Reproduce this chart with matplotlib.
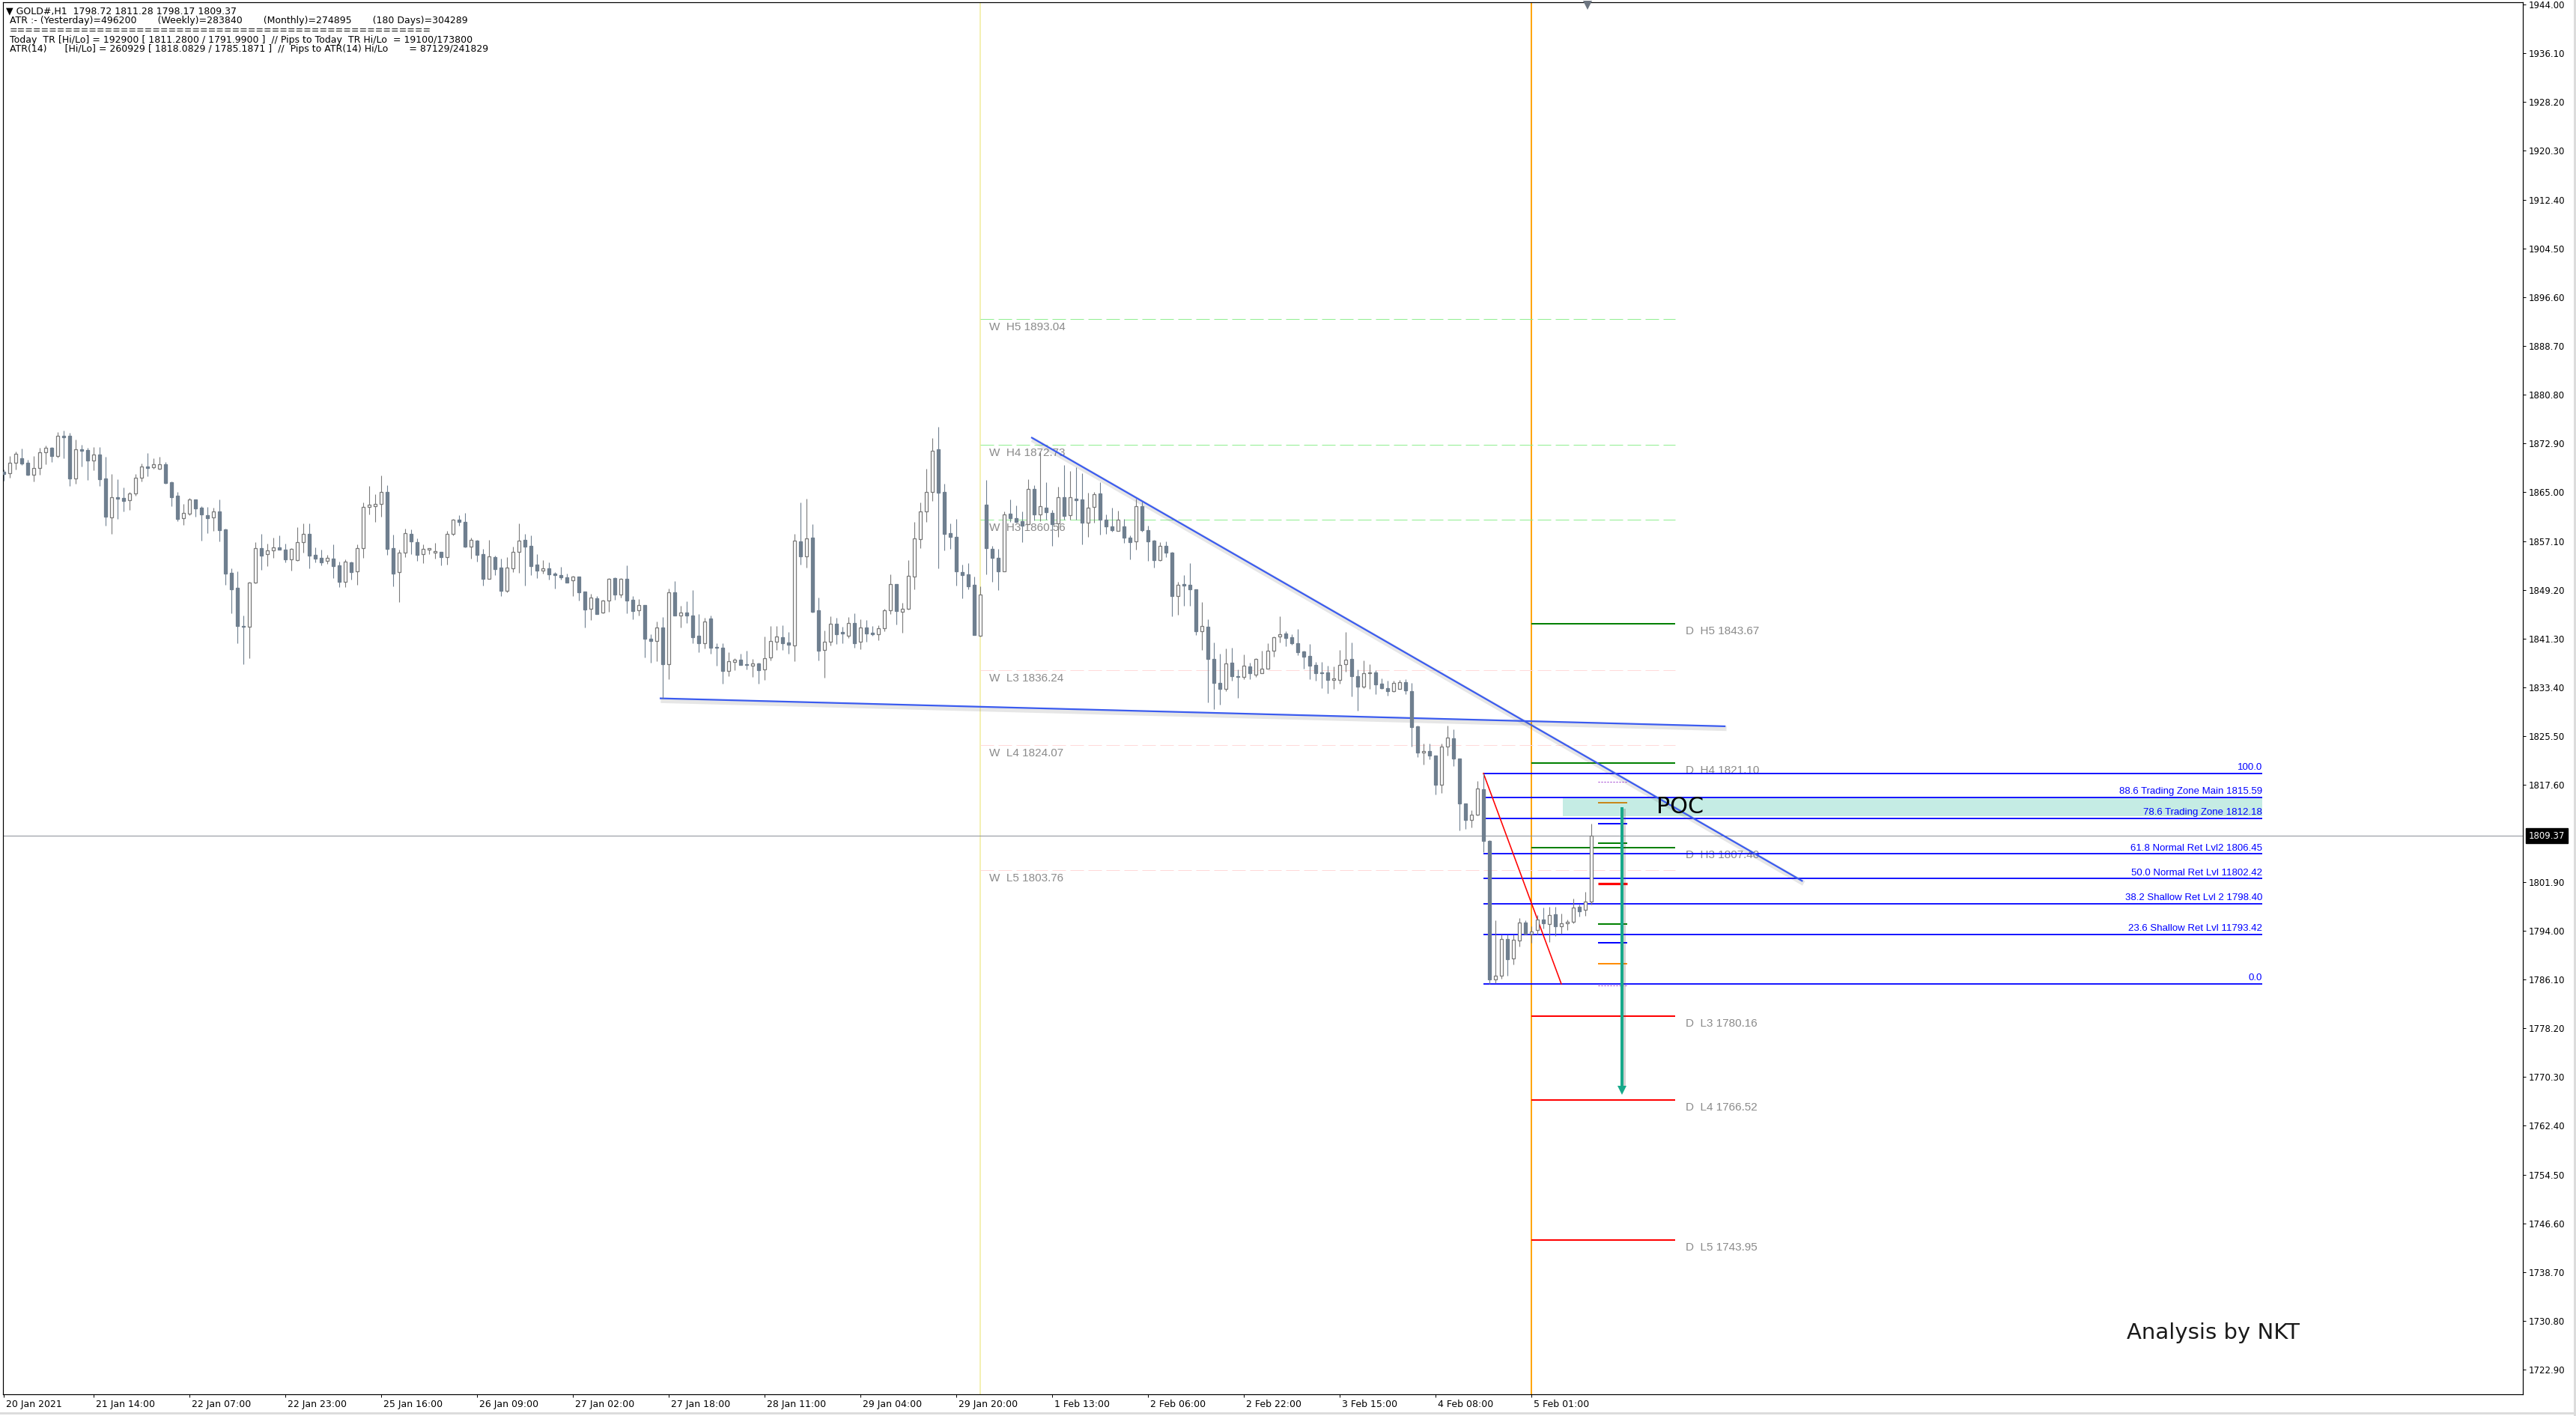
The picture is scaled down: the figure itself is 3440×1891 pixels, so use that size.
import matplotlib
matplotlib.use("Agg")
import matplotlib.pyplot as plt
import matplotlib.patheffects as pe
import matplotlib.transforms as mtrans
from matplotlib import font_manager
import numpy as np

# ---- H1 candles, bar 0 = 20 Jan 22:00 (server time), last bar = 5 Feb 10:00 ----
opens = [
    1868.33, 1868.05, 1869.75, 1870.47, 1869.75, 1867.89, 1868.90, 1871.44, 1872.17, 1870.92,
    1874.15, 1874.11, 1867.28, 1871.93, 1871.81, 1870.11, 1871.08, 1867.20, 1860.89, 1864.17,
    1864.05, 1863.68, 1864.77, 1867.32, 1869.14, 1869.02, 1868.78, 1869.50, 1866.63, 1864.45,
    1860.77, 1861.58, 1863.80, 1862.51, 1861.26, 1860.89, 1861.86, 1858.99, 1851.92, 1849.50,
    1843.35, 1843.19, 1850.34, 1855.92, 1854.95, 1855.56, 1856.04, 1855.72, 1854.18, 1854.06,
    1856.89, 1858.23, 1854.83, 1854.39, 1853.86, 1854.27, 1853.13, 1850.55, 1853.66, 1852.16,
    1855.92, 1862.59, 1862.79, 1863.08, 1865.02, 1855.96, 1852.04, 1855.20, 1858.23, 1856.93,
    1854.95, 1855.76, 1855.20, 1855.36, 1854.55, 1858.23, 1860.57, 1860.21, 1856.25, 1857.18,
    1854.99, 1851.03, 1854.51, 1852.81, 1849.09, 1852.65, 1855.36, 1857.30, 1856.29, 1853.30,
    1852.37, 1852.69, 1851.84, 1851.60, 1851.23, 1850.71, 1851.36, 1848.93, 1846.10, 1847.84,
    1845.49, 1847.44, 1851.11, 1848.49, 1850.99, 1847.60, 1845.86, 1846.75, 1841.29, 1840.97,
    1843.11, 1837.13, 1848.81, 1845.09, 1845.49, 1845.05, 1841.78, 1840.60, 1844.57, 1839.96,
    1839.84, 1836.04, 1837.49, 1837.90, 1837.21, 1836.89, 1837.29, 1836.28, 1838.22, 1840.77,
    1841.53, 1840.69, 1840.24, 1857.01, 1854.67, 1857.66, 1845.90, 1839.43, 1840.76, 1843.67,
    1842.34, 1841.73, 1843.79, 1840.76, 1843.06, 1842.26, 1841.97, 1842.98, 1845.85, 1850.14,
    1845.61, 1846.10, 1851.35, 1857.41, 1861.86, 1865.01, 1871.96, 1865.01, 1858.34, 1857.74,
    1852.04, 1851.67, 1850.02, 1841.73, 1862.95, 1855.80, 1854.38, 1852.16, 1861.54, 1860.85,
    1860.32, 1859.84, 1865.50, 1861.46, 1862.51, 1861.66, 1859.92, 1864.16, 1861.33, 1864.00,
    1863.80, 1860.04, 1862.59, 1864.81, 1860.53, 1859.43, 1858.71, 1859.43, 1857.66, 1857.01,
    1862.75, 1858.83, 1857.13, 1853.98, 1856.28, 1855.19, 1848.20, 1850.14, 1850.06, 1849.29,
    1842.46, 1843.27, 1838.01, 1834.09, 1833.16, 1837.41, 1835.23, 1835.06, 1836.80, 1835.51,
    1835.67, 1836.40, 1839.31, 1841.65, 1842.14, 1841.53, 1840.56, 1839.23, 1838.50, 1837.04,
    1835.83, 1835.79, 1834.58, 1834.58, 1837.13, 1837.97, 1835.23, 1833.49, 1835.71, 1835.79,
    1833.97, 1833.24, 1832.76, 1833.16, 1834.26, 1832.84, 1827.10, 1822.82, 1823.06, 1822.33,
    1817.68, 1823.79, 1825.16, 1821.93, 1814.57, 1811.90, 1812.79, 1816.87, 1808.59, 1786.07,
    1786.68, 1792.62, 1789.51, 1792.46, 1795.29, 1793.51, 1794.16, 1795.85, 1795.04, 1796.66,
    1794.68, 1795.25, 1795.45, 1797.87, 1797.39, 1798.72,
]
highs = [
    1868.74, 1870.84, 1871.57, 1872.05, 1870.23, 1870.84, 1872.25, 1872.58, 1872.37, 1874.72,
    1875.00, 1874.60, 1873.51, 1872.66, 1872.17, 1872.29, 1872.29, 1870.76, 1867.93, 1867.12,
    1865.79, 1865.02, 1867.93, 1869.63, 1871.36, 1870.51, 1870.76, 1869.87, 1866.71, 1865.10,
    1863.08, 1864.05, 1863.80, 1862.75, 1862.59, 1862.47, 1863.80, 1859.16, 1852.65, 1852.16,
    1845.01, 1850.55, 1856.93, 1858.23, 1856.69, 1857.62, 1858.02, 1856.69, 1855.96, 1859.36,
    1859.92, 1859.92, 1856.04, 1855.72, 1854.83, 1856.57, 1853.78, 1854.10, 1853.78, 1856.53,
    1863.36, 1865.99, 1864.69, 1867.69, 1866.11, 1858.15, 1855.72, 1859.12, 1859.04, 1857.54,
    1856.61, 1855.96, 1856.77, 1855.40, 1858.75, 1860.65, 1861.30, 1861.66, 1857.70, 1857.34,
    1855.80, 1857.26, 1854.71, 1854.27, 1854.51, 1856.21, 1860.01, 1858.27, 1857.98, 1854.99,
    1854.02, 1853.70, 1852.08, 1852.93, 1851.84, 1851.48, 1851.36, 1848.93, 1848.53, 1848.20,
    1847.64, 1851.07, 1851.23, 1851.07, 1853.22, 1848.20, 1847.72, 1846.75, 1842.06, 1844.08,
    1844.81, 1849.42, 1850.63, 1846.59, 1847.35, 1849.13, 1845.29, 1844.65, 1845.05, 1840.52,
    1840.56, 1839.15, 1838.14, 1838.83, 1839.35, 1838.02, 1837.41, 1841.65, 1843.35, 1843.39,
    1843.47, 1842.38, 1858.23, 1863.40, 1863.97, 1859.84, 1847.92, 1842.67, 1844.96, 1844.68,
    1843.27, 1844.80, 1845.37, 1844.40, 1844.28, 1843.35, 1843.47, 1846.18, 1851.67, 1850.14,
    1847.11, 1853.98, 1860.24, 1863.36, 1868.81, 1873.78, 1875.60, 1866.39, 1859.92, 1860.65,
    1853.25, 1853.53, 1851.35, 1849.73, 1867.03, 1856.36, 1855.88, 1861.94, 1863.88, 1862.87,
    1861.94, 1867.11, 1866.10, 1871.48, 1866.63, 1862.18, 1865.90, 1869.42, 1868.41, 1869.01,
    1868.08, 1864.93, 1865.09, 1866.59, 1861.46, 1862.47, 1862.06, 1860.65, 1858.02, 1863.96,
    1863.48, 1859.56, 1857.33, 1856.89, 1857.09, 1855.39, 1850.54, 1851.55, 1853.57, 1849.33,
    1847.23, 1844.48, 1840.64, 1838.82, 1839.71, 1839.83, 1836.32, 1838.74, 1837.41, 1838.10,
    1839.31, 1840.52, 1841.65, 1844.89, 1842.46, 1841.98, 1842.86, 1839.31, 1840.44, 1837.53,
    1837.53, 1836.88, 1836.80, 1839.43, 1842.38, 1840.64, 1836.32, 1837.81, 1837.13, 1836.20,
    1834.86, 1834.46, 1834.46, 1834.58, 1834.70, 1834.17, 1827.22, 1824.27, 1824.27, 1822.33,
    1824.35, 1827.18, 1826.62, 1821.93, 1814.57, 1813.56, 1818.21, 1819.48, 1808.71, 1795.65,
    1793.35, 1793.35, 1793.35, 1796.06, 1795.65, 1794.68, 1796.58, 1797.75, 1797.91, 1797.91,
    1796.78, 1795.77, 1799.21, 1798.20, 1800.30, 1811.28,
]
lows = [
    1866.92, 1867.40, 1868.74, 1869.46, 1867.77, 1866.80, 1867.89, 1869.54, 1869.95, 1870.68,
    1870.55, 1865.99, 1866.43, 1869.22, 1867.04, 1868.61, 1865.99, 1859.64, 1858.31, 1860.73,
    1861.86, 1862.19, 1864.41, 1866.80, 1867.60, 1868.86, 1868.74, 1866.43, 1862.79, 1860.37,
    1859.76, 1861.34, 1861.06, 1857.22, 1858.43, 1858.79, 1857.10, 1850.06, 1845.45, 1840.60,
    1837.21, 1838.18, 1850.30, 1852.45, 1853.09, 1854.39, 1855.68, 1853.70, 1852.37, 1853.90,
    1855.28, 1852.73, 1853.70, 1853.17, 1853.46, 1851.15, 1849.62, 1849.70, 1850.83, 1850.06,
    1854.43, 1861.46, 1860.25, 1861.06, 1854.91, 1849.82, 1847.19, 1854.47, 1854.99, 1853.94,
    1853.58, 1854.99, 1854.31, 1853.22, 1853.34, 1857.98, 1859.56, 1856.13, 1854.31, 1853.82,
    1849.94, 1851.03, 1851.64, 1848.24, 1848.85, 1852.04, 1852.00, 1849.94, 1851.56, 1851.15,
    1851.88, 1850.87, 1849.46, 1850.83, 1850.35, 1848.24, 1847.52, 1843.15, 1844.32, 1845.29,
    1845.45, 1845.70, 1847.64, 1847.92, 1845.41, 1844.48, 1845.09, 1838.30, 1837.41, 1837.69,
    1831.55, 1834.78, 1845.09, 1843.15, 1843.88, 1840.52, 1839.15, 1839.71, 1838.91, 1836.97,
    1833.98, 1835.27, 1836.24, 1837.05, 1836.36, 1835.07, 1833.98, 1834.58, 1837.82, 1839.51,
    1839.51, 1838.91, 1837.69, 1853.30, 1852.77, 1845.49, 1837.82, 1834.98, 1840.23, 1840.44,
    1840.52, 1841.45, 1839.83, 1839.55, 1840.76, 1841.77, 1841.04, 1842.46, 1845.29, 1843.59,
    1842.26, 1846.01, 1849.33, 1856.00, 1860.16, 1863.56, 1852.72, 1855.55, 1855.88, 1849.94,
    1847.79, 1849.25, 1841.85, 1841.65, 1851.67, 1850.54, 1849.13, 1852.16, 1860.16, 1860.04,
    1856.89, 1859.84, 1860.40, 1860.32, 1860.57, 1856.36, 1857.82, 1860.57, 1860.57, 1860.57,
    1856.60, 1857.74, 1860.08, 1858.14, 1858.22, 1858.63, 1858.71, 1856.81, 1854.10, 1855.68,
    1858.63, 1853.94, 1852.77, 1853.90, 1854.50, 1844.88, 1845.17, 1846.58, 1846.58, 1841.85,
    1839.43, 1831.00, 1829.90, 1830.60, 1832.76, 1834.46, 1831.75, 1834.70, 1834.70, 1835.06,
    1835.67, 1836.40, 1838.42, 1840.64, 1840.12, 1840.36, 1838.62, 1836.48, 1834.78, 1834.46,
    1833.24, 1832.44, 1833.16, 1833.97, 1835.91, 1831.95, 1829.61, 1833.29, 1833.16, 1832.36,
    1833.16, 1832.03, 1832.72, 1833.12, 1832.27, 1823.87, 1822.17, 1820.96, 1821.77, 1816.03,
    1816.27, 1822.33, 1820.63, 1810.29, 1810.53, 1810.69, 1812.63, 1806.69, 1785.38, 1785.45,
    1786.27, 1786.68, 1788.50, 1791.41, 1793.35, 1791.99, 1793.35, 1794.36, 1792.13, 1793.14,
    1793.55, 1794.07, 1795.17, 1796.26, 1796.46, 1798.17,
]
closes = [
    1867.93, 1869.75, 1871.24, 1869.67, 1867.89, 1868.90, 1871.44, 1872.17, 1870.92, 1874.11,
    1873.95, 1867.28, 1871.93, 1871.73, 1870.19, 1871.08, 1867.16, 1861.10, 1864.17, 1864.01,
    1863.64, 1864.82, 1867.32, 1869.14, 1868.90, 1869.50, 1869.50, 1866.55, 1864.25, 1860.73,
    1861.62, 1863.80, 1862.35, 1861.38, 1860.85, 1861.86, 1858.91, 1851.88, 1849.33, 1843.39,
    1843.19, 1850.34, 1855.92, 1854.79, 1855.56, 1856.04, 1855.76, 1854.18, 1855.80, 1856.89,
    1858.23, 1854.79, 1854.31, 1853.70, 1854.35, 1853.09, 1850.55, 1853.74, 1852.08, 1855.92,
    1862.59, 1862.96, 1863.08, 1865.02, 1855.88, 1851.88, 1855.20, 1858.35, 1857.01, 1854.91,
    1855.80, 1855.92, 1855.48, 1854.55, 1858.23, 1860.53, 1860.25, 1856.25, 1857.26, 1854.91,
    1851.03, 1854.59, 1852.61, 1849.09, 1852.81, 1855.36, 1857.14, 1856.25, 1853.09, 1852.37,
    1852.69, 1851.76, 1851.56, 1851.28, 1850.43, 1851.36, 1848.85, 1846.06, 1847.92, 1845.33,
    1847.48, 1850.99, 1848.49, 1850.95, 1847.52, 1845.82, 1846.75, 1841.33, 1840.97, 1843.07,
    1837.21, 1848.81, 1845.09, 1845.49, 1845.09, 1841.57, 1840.60, 1844.08, 1839.88, 1839.84,
    1836.12, 1837.61, 1837.90, 1837.09, 1837.01, 1837.29, 1836.24, 1838.10, 1840.89, 1841.65,
    1840.60, 1840.36, 1857.14, 1854.67, 1857.54, 1845.70, 1839.39, 1840.76, 1843.67, 1842.05,
    1842.13, 1843.79, 1840.52, 1843.06, 1842.13, 1842.05, 1842.98, 1845.85, 1850.14, 1845.77,
    1846.10, 1851.43, 1857.49, 1861.94, 1865.01, 1871.68, 1864.89, 1858.30, 1857.74, 1852.16,
    1851.63, 1849.81, 1841.85, 1848.44, 1855.92, 1854.34, 1852.24, 1861.46, 1860.85, 1860.24,
    1859.64, 1865.50, 1861.46, 1862.75, 1861.74, 1859.84, 1864.16, 1861.21, 1864.16, 1863.68,
    1860.04, 1862.51, 1864.69, 1860.53, 1859.43, 1858.83, 1860.53, 1857.62, 1856.89, 1862.75,
    1858.83, 1857.01, 1853.98, 1856.28, 1855.19, 1848.24, 1850.06, 1849.89, 1849.33, 1842.46,
    1843.35, 1838.01, 1834.09, 1833.16, 1837.32, 1835.18, 1835.06, 1836.88, 1835.75, 1837.97,
    1836.40, 1839.31, 1841.57, 1842.06, 1841.45, 1840.52, 1839.15, 1838.42, 1836.88, 1835.75,
    1835.67, 1834.66, 1834.82, 1837.00, 1837.93, 1835.27, 1833.49, 1835.75, 1835.83, 1833.89,
    1833.24, 1832.76, 1834.13, 1834.26, 1832.88, 1827.02, 1822.82, 1823.10, 1822.33, 1817.68,
    1823.79, 1825.28, 1821.93, 1814.57, 1811.90, 1812.79, 1817.00, 1808.51, 1786.07, 1786.76,
    1792.62, 1789.43, 1792.50, 1795.29, 1793.55, 1793.91, 1795.85, 1795.17, 1796.58, 1794.68,
    1795.17, 1795.49, 1797.71, 1797.19, 1798.72, 1809.37,
]

# time axis labels (bar index -> label)
time_ticks = [0, 15, 31, 47, 63, 79, 95, 111, 127, 143, 159, 175, 191, 207, 223, 239, 255]
time_labels = ["20 Jan 2021", "21 Jan 14:00", "22 Jan 07:00", "22 Jan 23:00", "25 Jan 16:00",
               "26 Jan 09:00", "27 Jan 02:00", "27 Jan 18:00", "28 Jan 11:00", "29 Jan 04:00",
               "29 Jan 20:00", "1 Feb 13:00", "2 Feb 06:00", "2 Feb 22:00", "3 Feb 15:00",
               "4 Feb 08:00", "5 Feb 01:00"]
price_ticks = [1944.00, 1936.10, 1928.20, 1920.30, 1912.40, 1904.50, 1896.60, 1888.70,
               1880.80, 1872.90, 1865.00, 1857.10, 1849.20, 1841.30, 1833.40, 1825.50,
               1817.60, 1801.90, 1794.00, 1786.10, 1778.20, 1770.30, 1762.40, 1754.50,
               1746.60, 1738.70, 1730.80, 1722.90]
last_price = 1809.37

# weekly / daily pivot levels
w_names = ["H5", "H4", "H3", "L3", "L4", "L5"]
w_levels = [1893.04, 1872.73, 1860.56, 1836.24, 1824.07, 1803.76]
d_names = ["H5", "H4", "H3", "L3", "L4", "L5"]
d_levels = [1843.67, 1821.10, 1807.40, 1780.16, 1766.52, 1743.95]
week_start, day_start, pivot_end = 163, 255, 279

# fibonacci retracement (anchored high bar 247 -> low bar 248)
fib_high, fib_low = 1819.48, 1785.38
fib_x = [247, 377]
fib_pct = [100.0, 88.6, 78.6, 61.8, 50.0, 38.2, 23.6, 0.0]
fib_text = ["100.0", "88.6 Trading Zone Main 1815.59", "78.6 Trading Zone 1812.18",
            "61.8 Normal Ret Lvl2 1806.45", "50.0 Normal Ret Lvl 11802.42",
            "38.2 Shallow Ret Lvl 2 1798.40", "23.6 Shallow Ret Lvl 11793.42", "0.0"]

# drawn objects
trend_down_x, trend_down_y = [171.5, 300.3], [1873.9, 1802.0]
trend_flat_x, trend_flat_y = [109.5, 287.4], [1831.63, 1827.1]
red_line_x, red_line_y = [247, 260], [1819.48, 1785.38]
poc_x, poc_y = [260.2, 377], [1812.5, 1815.4]
arrow_x, arrow_y = 270.1, [1813.96, 1767.47]
mark_x = [266.1, 271.0]
mark_levels = [1818.08, 1814.75, 1811.28, 1808.19, 1801.6, 1795.09, 1791.99, 1788.66, 1785.19]
mark_colors = ["#9932cc", "#c8861a", "#0000ff", "#008000", "#ff0000", "#008000", "#0000ff",
               "#ff8c00", "#9932cc"]
mark_widths = [1.0, 2.0, 2.0, 2.0, 3.2, 2.0, 2.0, 2.0, 1.0]

header = [
    "\u25bc GOLD#,H1  1798.72 1811.28 1798.17 1809.37",
    "ATR :- (Yesterday)=496200       (Weekly)=283840       (Monthly)=274895       (180 Days)=304289",
    "=" * 53,
    "Today  TR [Hi/Lo] = 192900 [ 1811.2800 / 1791.9900 ]  // Pips to Today  TR Hi/Lo  = 19100/173800",
    "ATR(14)      [Hi/Lo] = 260929 [ 1818.0829 / 1785.1871 ]  //  Pips to ATR(14) Hi/Lo       = 87129/241829",
]

# ---------------------------------------------------------------------------
W, H, DPI = 3441, 1891, 100
PX = 72.0 / DPI   # one pixel in points

names = {f.name for f in font_manager.fontManager.ttflist}
NARROW = "Liberation Sans Narrow" if "Liberation Sans Narrow" in names else "Liberation Sans"
fib_fs = 11 if NARROW == "Liberation Sans Narrow" else 9.5

fig = plt.figure(figsize=(W / DPI, H / DPI), dpi=DPI, facecolor="white")
ax = fig.add_axes([4 / W, 1 - 1862 / H, (3369 - 4) / W, (1862 - 3) / H])
ax.set_xlim(-0.125, 420.5)
ax.set_ylim(1718.92, 1944.36)
for sp in ax.spines.values():
    sp.set_color("black")
    sp.set_linewidth(1.2 * PX)

GREY_TXT = "#8a8a8a"
BULL_EDGE = "#7a7a7a"
BEAR = "#6f7f8f"

# separators
ax.axvline(week_start, color="#f4f0b4", lw=2 * PX, zorder=1)
ax.axvline(day_start, color="#ffa500", lw=2 * PX, zorder=1)
ax.axhline(last_price, color="#8c9098", lw=1 * PX, zorder=1)

# weekly pivots
for name, lvl in zip(w_names, w_levels):
    col = "#90ee90" if name.startswith("H") else "#ffd9d9"
    ax.hlines(lvl, week_start, pivot_end, colors=col, lw=1 * PX, linestyles=(0, (18, 6)), zorder=2)
    ax.annotate(f"W  {name} {lvl:.2f}", xy=(164.5, lvl), xytext=(0, -11 * PX),
                textcoords="offset points", ha="left", va="center", fontsize=11,
                family="Liberation Sans", color=GREY_TXT, zorder=3)

# daily pivots
for name, lvl in zip(d_names, d_levels):
    col = "#008000" if name.startswith("H") else "#ff0000"
    ax.hlines(lvl, day_start, pivot_end, colors=col, lw=2 * PX, zorder=2)
    ax.annotate(f"D  {name} {lvl:.2f}", xy=(280.75, lvl), xytext=(0, -10 * PX),
                textcoords="offset points", ha="left", va="center", fontsize=11,
                family="Liberation Sans", color=GREY_TXT, zorder=3)

# POC zone
ax.fill_between(poc_x, poc_y[0], poc_y[1], color="#c5ece4", lw=0, zorder=1.5)

# fibonacci levels
for pct, txt in zip(fib_pct, fib_text):
    lvl = fib_low + (fib_high - fib_low) * pct / 100.0
    ax.hlines(lvl, fib_x[0], fib_x[1], colors="#0000ff", lw=1.8 * PX, zorder=3)
    ax.annotate(txt, xy=(fib_x[1], lvl), xytext=(0, 1.5 * PX), textcoords="offset points",
                ha="right", va="bottom", fontsize=fib_fs, family=NARROW, color="#0000ff", zorder=3)

# trend lines with a soft shadow
shadow = [pe.SimpleLineShadow(offset=(1.0, -2.0), shadow_color="0.4", alpha=0.16, linewidth=7 * PX),
          pe.Normal()]
ax.plot(trend_down_x, trend_down_y, color="#3a5bf0", lw=2.2 * PX, zorder=4, path_effects=shadow,
        solid_capstyle="butt")
ax.plot(trend_flat_x, trend_flat_y, color="#3a5bf0", lw=2.2 * PX, zorder=4, path_effects=shadow,
        solid_capstyle="butt")
ax.plot(red_line_x, red_line_y, color="#ff0000", lw=1.6 * PX, zorder=4)

# candles
idx = np.arange(len(closes))
o, h, l, c = (np.array(v) for v in (opens, highs, lows, closes))
up = c >= o
ax.vlines(idx[up], l[up], h[up], colors=BULL_EDGE, lw=1.1 * PX, zorder=5)
ax.vlines(idx[~up], l[~up], h[~up], colors=BEAR, lw=1.1 * PX, zorder=5)
ax.bar(idx[up], (c - o)[up], bottom=o[up], width=0.55, facecolor="white",
       edgecolor=BULL_EDGE, lw=1.3 * PX, zorder=6)
ax.bar(idx[~up], (o - c)[~up], bottom=c[~up], width=0.55, facecolor=BEAR,
       edgecolor=BEAR, lw=1.3 * PX, zorder=6)

# short level markers right of the last bar
for lvl, col, w in zip(mark_levels, mark_colors, mark_widths):
    ls = (0, (2, 2)) if w < 1.5 else "solid"
    ax.hlines(lvl, mark_x[0], mark_x[1], colors=col, lw=w * PX, linestyles=ls, zorder=7)

# target arrow
arrow_shadow = [pe.SimpleLineShadow(offset=(2.5, -1.5), shadow_color="0.3", alpha=0.25), pe.Normal()]
tip_off = 6 / 8.246
ax.plot([arrow_x, arrow_x], [arrow_y[0], arrow_y[1] + 2 * tip_off], color="#17a98a",
        lw=4 * PX, zorder=8, path_effects=arrow_shadow, solid_capstyle="butt")
ax.plot([arrow_x], [arrow_y[1] + tip_off], marker="v", markersize=12 * PX, color="#17a98a",
        markeredgewidth=0, zorder=8)

ax.text(275.9, 1814.1, "POC", fontsize=21.7, color="black", va="center", ha="left", zorder=9)

# axis ticks / labels
ax.yaxis.tick_right()
ax.set_yticks(price_ticks)
ax.set_yticklabels([f"{v:.2f}" for v in price_ticks])
ax.tick_params(axis="y", which="both", direction="out", length=4 * PX, width=1 * PX,
               pad=4 * PX, labelsize=8.5, labelcolor="black", left=False, right=True)
ax.set_xticks(time_ticks)
ax.set_xticklabels(time_labels, ha="left")
ax.tick_params(axis="x", direction="out", length=4 * PX, width=1 * PX, pad=3 * PX,
               labelsize=9, labelcolor="black")
shift = mtrans.ScaledTranslation(3 / DPI, 0, fig.dpi_scale_trans)
for lab in ax.get_xticklabels():
    lab.set_transform(lab.get_transform() + shift)

# last price tag
blend = mtrans.blended_transform_factory(ax.transAxes, ax.transData)
ax.text(1 + 8 / 3365, last_price, f"{last_price:.2f}", transform=blend, ha="left", va="center",
        fontsize=8.5, color="white", zorder=10,
        bbox=dict(boxstyle="square,pad=0.3", facecolor="black", edgecolor="black"))

# chart shift marker at the top
top_blend = mtrans.blended_transform_factory(ax.transData, ax.transAxes)
ax.plot([264.4], [1 - 4 / 1859], marker="v", markersize=9 * PX * 1.4, color="#6d7580",
        markeredgewidth=0, transform=top_blend, clip_on=False, zorder=10)

# header info
fig.text(8 / W, 1 - 15 / H, header[0], fontsize=9, va="center", ha="left", color="black")
for k, y in zip(range(1, 5), [28, 41, 53, 65]):
    fig.text(13 / W, 1 - y / H, header[k], fontsize=9, va="center", ha="left", color="black")

fig.text(2840 / W, 1 - 1780 / H, "Analysis by NKT", fontsize=21, color="#1a1a1a",
         va="center", ha="left")

# thin outer frame at right / bottom edge
fig.add_artist(plt.Line2D([3438 / W, 3438 / W], [0, 1], color="#dcdcdc", lw=3 * PX,
                          transform=fig.transFigure))
fig.add_artist(plt.Line2D([0, 1], [4 / H, 4 / H], color="#dcdcdc", lw=3 * PX,
                          transform=fig.transFigure))

fig.savefig("out.png", dpi=DPI, facecolor="white")
